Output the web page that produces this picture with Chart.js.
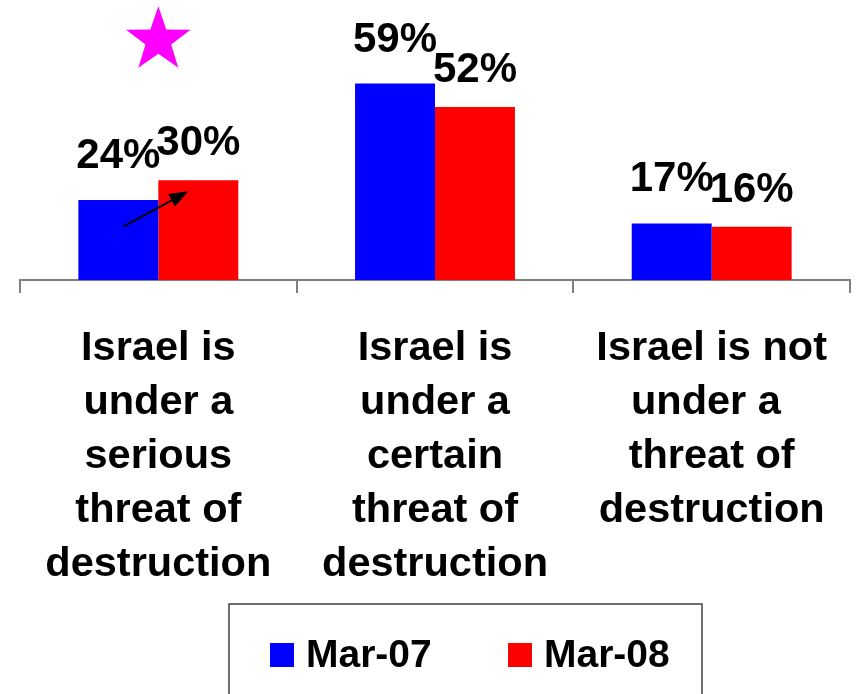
<!DOCTYPE html>
<html lang="en">
<head>
    <meta charset="UTF-8">
    <title>Israel threat of destruction</title>
    <style>
        body {
            margin: 0;
            padding: 0;
            background-color: #fff;
        }

        .chart-box {
            position: relative;
            width: 857px;
            height: 694px;
        }
    </style>
</head>
<body>
    <div class="chart-box">
        <canvas id="threatChart"></canvas>
    </div>
    <script src="https://cdn.jsdelivr.net/npm/chart.js"></script>
    <script>
        const categories = [
            ['Israel is', 'under a', 'serious', 'threat of', 'destruction'],
            ['Israel is', 'under a', 'certain', 'threat of', 'destruction'],
            ['Israel is not', 'under a ', 'threat of', 'destruction']
        ];
        const seriesNames = ['Mar-07', 'Mar-08'];
        const mar07 = [24, 59, 17];
        const mar08 = [30, 52, 16];

        const FONT = '"Liberation Sans", Arial, sans-serif';

        // value labels above each bar
        const barLabels = {
            id: 'barLabels',
            afterDatasetsDraw(chart) {
                const ctx = chart.ctx;
                const offsets = [32, 25];
                ctx.save();
                ctx.font = 'bold 42px ' + FONT;
                ctx.fillStyle = '#000';
                ctx.textAlign = 'center';
                ctx.textBaseline = 'alphabetic';
                chart.data.datasets.forEach((ds, i) => {
                    chart.getDatasetMeta(i).data.forEach((bar, j) => {
                        ctx.fillText(ds.data[j] + '%', bar.x, bar.y - offsets[i]);
                    });
                });
                ctx.restore();
            }
        };

        // star and arrow drawn on top of the first group
        const marks = {
            id: 'marks',
            afterDraw(chart) {
                const ctx = chart.ctx;
                const x = chart.scales.x;
                const y = chart.scales.y;
                const blue = chart.getDatasetMeta(0).data[0];
                const red = chart.getDatasetMeta(1).data[0];

                // star
                const cx = x.getPixelForValue(0);
                const cy = y.getPixelForValue(72);
                const R = 34, r = 13.5;
                ctx.save();
                ctx.fillStyle = '#FF00FF';
                ctx.beginPath();
                for (let k = 0; k < 10; k++) {
                    const a = -Math.PI / 2 + k * Math.PI / 5;
                    const rad = k % 2 === 0 ? R : r;
                    const px = cx + rad * Math.cos(a);
                    const py = cy + rad * Math.sin(a);
                    if (k === 0) ctx.moveTo(px, py); else ctx.lineTo(px, py);
                }
                ctx.closePath();
                ctx.fill();

                // arrow
                const x1 = blue.x + 5, y1 = y.getPixelForValue(16);
                const x2 = red.x - 10, y2 = y.getPixelForValue(26.7);
                const ang = Math.atan2(y2 - y1, x2 - x1);
                const headLen = 19, headHalf = 7;
                const bx = x2 - headLen * Math.cos(ang), by = y2 - headLen * Math.sin(ang);
                ctx.strokeStyle = '#000';
                ctx.fillStyle = '#000';
                ctx.lineWidth = 2;
                ctx.beginPath();
                ctx.moveTo(x1, y1);
                ctx.lineTo(bx, by);
                ctx.stroke();
                ctx.beginPath();
                ctx.moveTo(x2, y2);
                ctx.lineTo(bx + headHalf * Math.sin(ang), by - headHalf * Math.cos(ang));
                ctx.lineTo(bx - headHalf * Math.sin(ang), by + headHalf * Math.cos(ang));
                ctx.closePath();
                ctx.fill();
                ctx.restore();
            }
        };

        // boxed legend at the bottom
        const boxLegend = {
            id: 'boxLegend',
            afterDraw(chart) {
                const ctx = chart.ctx;
                const left = 229, top = 604, right = 702;
                const itemX = [270, 508];
                ctx.save();
                ctx.strokeStyle = '#404040';
                ctx.lineWidth = 1.5;
                ctx.strokeRect(left, top, right - left, chart.height - top + 10);
                ctx.font = 'bold 39px ' + FONT;
                ctx.textBaseline = 'alphabetic';
                ctx.textAlign = 'left';
                chart.data.datasets.forEach((ds, i) => {
                    ctx.fillStyle = ds.backgroundColor;
                    ctx.fillRect(itemX[i], 643, 24, 24);
                    ctx.fillStyle = '#000';
                    ctx.fillText(ds.label, itemX[i] + 36, 667);
                });
                ctx.restore();
            }
        };

        new Chart(document.getElementById('threatChart'), {
            type: 'bar',
            data: {
                labels: categories,
                datasets: [
                    { label: seriesNames[0], data: mar07, backgroundColor: '#0000FF' },
                    { label: seriesNames[1], data: mar08, backgroundColor: '#FF0000' }
                ]
            },
            options: {
                responsive: true,
                maintainAspectRatio: false,
                animation: false,
                categoryPercentage: 0.578,
                barPercentage: 1,
                layout: {
                    padding: { left: 20, right: 6, top: 47, bottom: 103 }
                },
                plugins: {
                    legend: { display: false },
                    tooltip: { enabled: false }
                },
                scales: {
                    x: {
                        // 5 label lines need more than the default half-height cap
                        afterFit(scale) {
                            scale.height = 311;
                        },
                        grid: {
                            offset: true,
                            drawOnChartArea: false,
                            drawTicks: true,
                            tickLength: 13,
                            color: '#808080',
                            lineWidth: 2
                        },
                        border: { color: '#808080', width: 2 },
                        ticks: {
                            color: '#000',
                            padding: 29,
                            maxRotation: 0,
                            autoSkip: false,
                            font: { family: FONT, size: 41.5, weight: 'bold', lineHeight: '54px' }
                        }
                    },
                    y: {
                        display: false,
                        min: 0,
                        max: 70
                    }
                }
            },
            plugins: [barLabels, marks, boxLegend]
        });
    </script>
</body>
</html>
